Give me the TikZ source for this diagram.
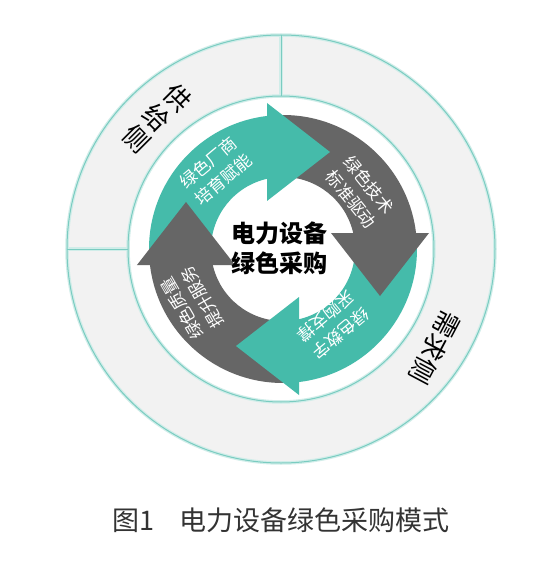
\documentclass[tikz,border=0pt]{standalone}
\usepackage{fontspec}
\newfontfamily\cjk{Noto Sans CJK SC}
\definecolor{ringfill}{HTML}{F2F2F2}
\definecolor{ringteal}{HTML}{7ACCC1}
\definecolor{arrowteal}{HTML}{45BBAA}
\definecolor{arrowgray}{HTML}{666666}
\definecolor{captiongray}{HTML}{333333}

\begin{document}
\begin{tikzpicture}[x=1pt, y=1pt,
    ringline/.style={draw=ringteal, line width=1pt},
    ringglow/.style={draw=ringteal!35, line width=3.5pt},
    arrowtext/.style={text=white, align=center, font=\cjk\fontsize{17}{23}\selectfont},
    sidetext/.style={text=black, align=center, font=\cjk\fontsize{26}{29}\selectfont},
    hubtext/.style={text=black, align=center, font=\cjk\bfseries\fontsize{24}{30}\selectfont}]

        % canvas
        \fill[white] (-283,-313) rectangle (263,249);
        \useasboundingbox (-283,-313) rectangle (263,249);

        % centres
        \coordinate (ring) at (-2,0);
        \coordinate (hub) at (0,0);

        %-----Outer ring-----
        \fill[ringfill, even odd rule] (ring) circle (214) (ring) circle (153);
        \draw[ringglow] (ring) circle (214) (ring) circle (153);
        \draw[ringglow] ([yshift=153]ring) -- ([yshift=214]ring) ([xshift=-153]ring) -- ([xshift=-214]ring);
        \draw[ringline] (ring) circle (214) (ring) circle (153);
        \draw[ringline] ([yshift=153]ring) -- ([yshift=214]ring) ([xshift=-153]ring) -- ([xshift=-214]ring);

        %-----Cycle arrows-----
        % arrow bodies
        \foreach \k/\col in {0/arrowteal, 1/arrowgray, 2/arrowteal, 3/arrowgray}
            \fill[\col, rotate=-90*\k] (180:134) arc[start angle=180, end angle=96.86, radius=134]
                -- (-16,70.2) arc[start angle=102.84, end angle=180, radius=72] -- cycle;

        % arrow heads
        \foreach \k/\col in {0/arrowteal, 1/arrowgray, 2/arrowteal, 3/arrowgray}
            \fill[\col, rotate=-90*\k] (-16,146) -- (47,97) -- (-16,48) -- cycle;

        %-----Labels-----
        \node[arrowtext, rotate=40] (vendor) at (-67,78) {绿色厂商\\培育赋能};
        \node[arrowtext, rotate=-51] (standard) at (77,57) {绿色技术\\标准驱动};
        \node[arrowtext, rotate=-140] (digital) at (50,-76) {绿色数字\\采购支撑};
        \node[arrowtext, rotate=120] (service) at (-91,-54) {绿色质量\\提升服务};

        \node[hubtext] (hubtitle) at (-3,1) {电力设备\\绿色采购};

        \node[sidetext, rotate=-45] (supplyside) at (-126,131) {供\\给\\侧};
        \node[sidetext, rotate=-118] (demandside) at (152,-99) {需求侧};

        % caption
        \node[font=\cjk\fontsize{27}{30}\selectfont, text=captiongray] (caption) at (-2,-271) {图1\hspace{25pt}电力设备绿色采购模式};

\end{tikzpicture}
\end{document}
